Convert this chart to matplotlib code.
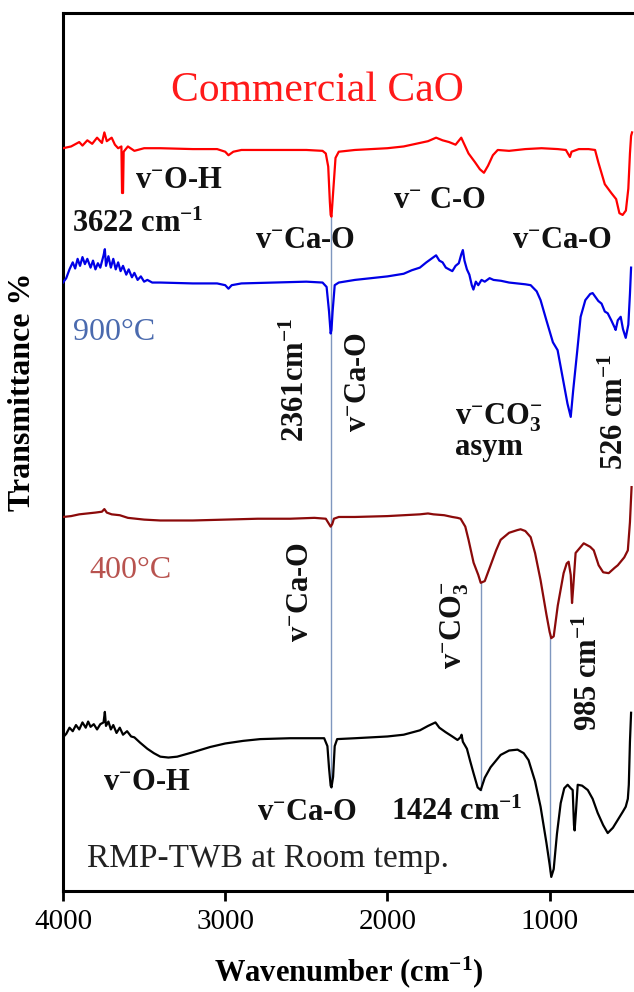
import numpy as np
import matplotlib
matplotlib.use("Agg")
import matplotlib.pyplot as plt

plt.rcParams['font.family'] = ['Liberation Serif', 'DejaVu Serif']
plt.rcParams['mathtext.fontset'] = 'custom'
plt.rcParams['mathtext.rm'] = 'Liberation Serif'
plt.rcParams['mathtext.bf'] = 'Liberation Serif:bold'
plt.rcParams['mathtext.it'] = 'Liberation Serif:italic'

# commercial CaO (offset transmittance, arbitrary units)
cao_wn = [4000, 3950, 3900, 3880, 3850, 3820, 3790, 3760, 3745, 3730, 3700, 3680,
          3660, 3640, 3636, 3630, 3626, 3600, 3560, 3500, 3400, 3200, 3050, 3000,
          2980, 2950, 2900, 2700, 2500, 2400, 2380, 2365, 2355, 2350, 2345, 2335,
          2320, 2300, 2200, 2000, 1900, 1800, 1750, 1700, 1660, 1620, 1580, 1545,
          1530, 1500, 1460, 1430, 1405, 1380, 1350, 1320, 1250, 1150, 1050, 950,
          900, 875, 865, 820, 760, 720, 700, 660, 620, 590, 570, 550, 530, 515,
          505, 498, 492]
cao_t = [84.6, 84.8, 85.3, 84.9, 85.5, 85.1, 85.8, 85.2, 86.4, 85.4, 85.8, 85.0,
         84.6, 84.8, 79.5, 79.5, 84.2, 84.8, 84.3, 84.6, 84.6, 84.5, 84.5, 84.2,
         83.8, 84.2, 84.4, 84.4, 84.4, 84.3, 84.0, 82.5, 78.5, 77.0, 76.8, 79.5,
         83.5, 84.2, 84.4, 84.6, 84.8, 85.2, 85.4, 85.8, 85.5, 85.3, 85.0, 85.8,
         85.2, 84.0, 83.0, 82.2, 81.8, 82.6, 83.8, 84.4, 84.3, 84.5, 84.6, 84.5,
         84.4, 83.6, 84.2, 84.5, 84.5, 84.4, 83.0, 80.5, 79.5, 78.8, 77.2, 77.0,
         77.5, 80.0, 84.0, 86.0, 86.4]

# calcined at 900 C
c900_wn = [4000, 3980, 3960, 3940, 3925, 3910, 3895, 3880, 3865, 3850, 3830, 3815,
           3800, 3785, 3770, 3750, 3742, 3735, 3720, 3705, 3690, 3675, 3660, 3645,
           3630, 3610, 3595, 3575, 3560, 3540, 3520, 3500, 3480, 3450, 3400, 3200,
           3050, 3000, 2980, 2960, 2900, 2700, 2500, 2400, 2375, 2360, 2350, 2345,
           2338, 2325, 2300, 2200, 2100, 2000, 1900, 1850, 1800, 1760, 1730, 1700,
           1680, 1660, 1640, 1600, 1580, 1560, 1545, 1535, 1525, 1510, 1495, 1480,
           1470, 1455, 1440, 1420, 1400, 1370, 1346, 1300, 1250, 1200, 1150, 1117,
           1080, 1056, 1020, 980, 951, 920, 890, 870, 855, 830, 809, 780, 750, 735,
           700, 680, 660, 642, 620, 600, 593, 580, 562, 548, 531, 515, 505, 498]
c900_t = [69.3, 69.8, 70.8, 71.6, 70.9, 72.0, 71.2, 72.2, 71.4, 72.0, 71.0, 71.8,
          70.8, 71.5, 71.0, 72.4, 73.1, 71.2, 72.3, 71.0, 72.0, 70.8, 71.6, 70.6,
          71.2, 70.2, 70.8, 69.9, 70.4, 69.6, 70.0, 69.4, 69.6, 69.3, 69.3, 69.2,
          69.2, 69.0, 68.6, 69.0, 69.2, 69.3, 69.4, 69.3, 68.8, 66.0, 63.5, 63.9,
          66.0, 69.0, 69.3, 69.6, 69.8, 70.0, 70.3, 70.7, 71.0, 71.6, 72.0, 72.4,
          71.8, 71.6, 71.0, 70.6, 71.2, 71.5, 72.5, 73.0, 71.8, 70.8, 70.2, 69.0,
          68.5, 69.4, 69.0, 69.6, 69.4, 69.8, 69.6, 69.5, 69.3, 69.2, 69.1, 69.0,
          68.3, 67.3, 65.0, 62.5, 61.6, 58.5, 55.5, 54.0, 57.0, 61.5, 65.4, 67.3,
          68.0, 68.1, 67.2, 66.9, 66.0, 65.8, 65.0, 64.2, 63.9, 65.0, 65.4, 64.0,
          63.0, 64.5, 68.0, 71.0]

# calcined at 400 C
c400_wn = [4000, 3950, 3900, 3850, 3800, 3760, 3745, 3730, 3700, 3650, 3600, 3550,
           3500, 3400, 3200, 3000, 2800, 2600, 2450, 2380, 2360, 2350, 2340, 2330,
           2300, 2200, 2000, 1900, 1800, 1750, 1716, 1650, 1600, 1568, 1549, 1520,
           1500, 1469, 1440, 1425, 1400, 1370, 1330, 1302, 1250, 1200, 1179, 1150,
           1117, 1090, 1056, 1020, 1000, 990, 975, 950, 914, 895, 883, 870, 862,
           855, 840, 790, 750, 728, 698, 670, 636, 600, 580, 540, 518, 505, 495]
c400_t = [42.6, 42.7, 42.9, 43.0, 43.1, 43.2, 43.5, 43.1, 42.9, 42.8, 42.5, 42.4,
          42.3, 42.2, 42.2, 42.3, 42.4, 42.4, 42.5, 42.4, 41.8, 41.5, 41.8, 42.4,
          42.6, 42.6, 42.7, 42.8, 42.9, 43.0, 42.9, 42.8, 42.6, 42.5, 42.4, 41.5,
          40.0, 37.4, 36.0, 35.1, 35.3, 36.8, 38.8, 40.0, 40.8, 41.1, 41.2, 41.0,
          40.3, 38.5, 35.4, 31.5, 29.5, 28.8, 29.0, 32.5, 36.2, 37.3, 37.5, 36.0,
          32.8, 34.5, 38.5, 39.6, 39.2, 38.8, 37.1, 36.3, 36.2, 36.8, 37.1, 38.0,
          38.8, 42.0, 46.0]

# RMP-TWB at room temperature
rt_wn = [4000, 3980, 3960, 3940, 3920, 3900, 3880, 3860, 3845, 3830, 3810, 3790,
         3770, 3750, 3742, 3735, 3720, 3705, 3690, 3670, 3650, 3630, 3605, 3580,
         3560, 3525, 3480, 3440, 3400, 3350, 3296, 3200, 3093, 3000, 2889, 2784,
         2600, 2450, 2390, 2370, 2360, 2350, 2345, 2335, 2325, 2310, 2200, 2100,
         2000, 1900, 1800, 1750, 1704, 1680, 1642, 1600, 1568, 1550, 1543, 1535,
         1510, 1490, 1469, 1444, 1425, 1400, 1364, 1302, 1250, 1198, 1160, 1130,
         1090, 1056, 1020, 1000, 990, 975, 955, 932, 910, 889, 870, 858, 850, 846,
         838, 827, 800, 765, 735, 704, 670, 642, 610, 580, 550, 531, 518, 512,
         505, 498]
rt_t = [17.5, 17.9, 18.6, 18.2, 18.9, 18.4, 19.2, 18.6, 19.3, 18.7, 19.0, 18.4,
        19.0, 19.2, 20.4, 18.8, 19.3, 18.4, 18.9, 18.0, 18.6, 17.8, 18.2, 17.6,
        17.5, 16.9, 16.2, 15.7, 15.3, 15.2, 15.3, 15.8, 16.4, 16.8, 17.1, 17.3,
        17.4, 17.4, 17.4, 16.5, 14.0, 12.0, 11.8, 13.0, 16.5, 17.3, 17.4, 17.5,
        17.6, 17.8, 18.3, 18.8, 19.2, 18.6, 18.1, 17.6, 17.2, 17.5, 17.8, 17.0,
        16.2, 14.8, 13.4, 11.8, 11.5, 12.9, 14.1, 15.5, 16.0, 16.1, 15.7, 14.9,
        12.5, 9.6, 5.5, 3.0, 1.6, 2.5, 6.5, 10.0, 11.7, 12.1, 11.7, 11.5, 7.5,
        6.9, 9.0, 12.1, 12.0, 11.5, 10.5, 8.9, 7.5, 6.6, 7.2, 8.1, 9.0, 9.6,
        10.5, 12.1, 17.0, 20.3]

# guide lines: (wavenumber, curve where the line starts)
guide_wn = [2345, 1425, 995]

x_ticks = [4000, 3000, 2000, 1000]

fig = plt.figure(figsize=(6.34, 9.92), dpi=100)
ax = fig.add_axes([63 / 634, 101 / 992, 1 - 63 / 634, 878 / 992])

ax.plot(cao_wn, cao_t, color='#ff0000', lw=1.6, zorder=3)
ax.plot(c900_wn, c900_t, color='#0000e6', lw=1.6, zorder=3)
ax.plot(c400_wn, c400_t, color='#8b0a0a', lw=1.6, zorder=3)
ax.plot(rt_wn, rt_t, color='black', lw=1.6, zorder=3)

# vertical guide lines from the upper spectrum down to the room-temp dip
def y_at(wn, xs, ys):
    return np.interp(wn, xs[::-1], ys[::-1])

tops = [y_at(guide_wn[0], cao_wn, cao_t),
        y_at(guide_wn[1], c400_wn, c400_t),
        y_at(guide_wn[2], c400_wn, c400_t)]
for g, top in zip(guide_wn, tops):
    ax.plot([g, g], [top, y_at(g, rt_wn, rt_t)], color='#7f97bf', lw=1.0, zorder=2)

ax.set_xlim(4000, 480)
ax.set_ylim(0, 100)
ax.set_xticks(x_ticks)
ax.set_xticklabels([str(t) for t in x_ticks], fontsize=21)
ax.set_yticks([])
ax.tick_params(axis='x', direction='out', length=7, width=2, pad=6)
for s in ['left', 'bottom', 'top']:
    ax.spines[s].set_linewidth(2.2)
ax.spines['right'].set_visible(False)

ax.set_xlabel(r'Wavenumber (cm$^{\mathbf{-1}}$)', fontsize=22, fontweight='bold', labelpad=14)
fig.text(23 / 634, 1 - 392 / 992, 'Transmittance %', rotation=90, fontsize=23,
         fontweight='bold', ha='center', va='center')

bold = dict(fontsize=22, fontweight='bold', color='#111111')
m = r'$^{\mathbf{-}}$'
cm = r' cm$^{\mathbf{-1}}$'

ax.text(2434, 91.2, 'Commercial CaO', color='#ff1a1a', fontsize=30, ha='center', va='center')
ax.text(3556, 80.9, 'v' + m + 'O-H', ha='left', va='center', **bold)
ax.text(3945, 75.1, '3622' + cm, ha='left', va='baseline', **bold)
ax.text(2816, 73.2, 'v' + m + 'Ca-O', ha='left', va='baseline', **bold)
ax.text(1966, 77.8, 'v' + m + ' C-O', ha='left', va='baseline', **bold)
ax.text(1232, 73.2, 'v' + m + 'Ca-O', ha='left', va='baseline', clip_on=False, **bold)

ax.text(3938, 62.8, '900°C', color='#4a6aae', fontsize=23, ha='left', va='baseline')
ax.text(2563, 58.2, '2361' + r'cm$^{\mathbf{-1}}$', rotation=90, ha='center', va='center', **bold)
ax.text(2181, 58.0, 'v' + m + 'Ca-O', rotation=90, ha='center', va='center', **bold)
ax.text(1583, 53.1, 'v' + m + r'CO$_{\mathbf{3}}^{\mathbf{-}}$', ha='left', va='baseline', **bold)
ax.text(1583, 49.7, 'asym', ha='left', va='baseline', **bold)
ax.text(597, 54.6, '526' + cm, rotation=90, ha='center', va='center', **bold)

ax.text(3840, 35.6, '400°C', color='#b8534f', fontsize=23, ha='left', va='baseline')
ax.text(2533, 34.1, 'v' + m + 'Ca-O', rotation=90, ha='center', va='center', **bold)
ax.text(1583, 30.3, 'v' + m + r'CO$_{\mathbf{3}}^{\mathbf{-}}$', rotation=90, ha='center', va='center', **bold)
ax.text(757, 24.9, '985' + cm, rotation=90, ha='center', va='center', **bold)

ax.text(3753, 11.5, 'v' + m + 'O-H', ha='left', va='baseline', **bold)
ax.text(2804, 8.1, 'v' + m + 'Ca-O', ha='left', va='baseline', **bold)
ax.text(1978, 8.1, '1424' + cm, ha='left', va='baseline', **bold)
ax.text(3852, 2.7, 'RMP-TWB at Room temp.', color='#222222', fontsize=24, ha='left', va='baseline')

fig.savefig('out.png', dpi=100)
